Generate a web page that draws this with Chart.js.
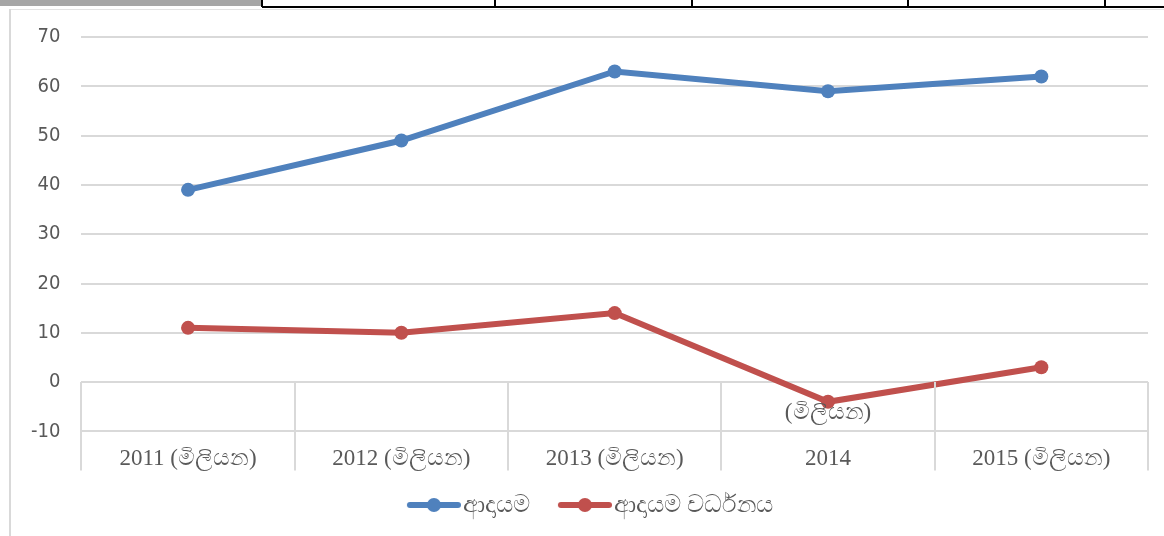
<!DOCTYPE html>
<html>
<head>
<meta charset="utf-8">
<script src="https://cdn.jsdelivr.net/npm/chart.js@4.4.0/dist/chart.umd.min.js"></script>
<style>
  html, body { margin: 0; padding: 0; background: #fff; }
  #wrap { position: relative; width: 1164px; height: 536px; overflow: hidden; }
  #chartBox { position: absolute; left: 0; top: 0; width: 1164px; height: 536px; }
  .cell { position: absolute; top: 0; height: 6px; background: #a6a6a6; }
  .hline { position: absolute; left: 262px; right: 0; top: 6px; height: 2px; background: #000; }
  .vline { position: absolute; top: 0; width: 2px; height: 7px; background: #000; }
  .frameTop { position: absolute; left: 10px; right: 0; top: 9px; height: 1px; background: #e3e3e3; }
  .frameLeft { position: absolute; left: 9px; top: 9px; bottom: 0; width: 2px; background: #d9d9d9; }
</style>
</head>
<body>
<div id="wrap">
  <div id="chartBox"><canvas id="lineChart"></canvas></div>
  <div class="cell" style="left:0;width:262px"></div>
  <div class="hline"></div>
  <div class="vline" style="left:261px"></div>
  <div class="vline" style="left:494px"></div>
  <div class="vline" style="left:691px"></div>
  <div class="vline" style="left:907px"></div>
  <div class="vline" style="left:1104px"></div>
  <div class="frameTop"></div>
  <div class="frameLeft"></div>
</div>
<script>
// chart data
var years = ["2011 (මිලියන)", "2012 (මිලියන)", "2013 (මිලියන)", "2014", "2015 (මිලියන)"];
var revenue = [39, 49, 63, 59, 62];
var revenueGrowth = [11, 10, 14, -4, 3];
var seriesNames = ["ආදායම", "ආදායම වර්ධනය"];
var yTicks = [-10, 0, 10, 20, 30, 40, 50, 60, 70];

var blue = "#4f81bd";
var red = "#c0504d";

// legend marker: short line with a dot on it, with empty room on the left
// so the items sit further apart
function legendMarker(color) {
    var c = document.createElement("canvas");
    c.width = 86; c.height = 16;
    var g = c.getContext("2d");
    g.strokeStyle = color; g.lineWidth = 6; g.lineCap = "round";
    g.beginPath(); g.moveTo(35, 8); g.lineTo(83, 8); g.stroke();
    g.fillStyle = color;
    g.beginPath(); g.arc(59, 8, 7, 0, Math.PI * 2); g.fill();
    return c;
}

// category separators below the zero line + the wrapped half of the 2014 label
var separators = {
    id: "separators",
    afterDraw: function (chart) {
        var ctx = chart.ctx, area = chart.chartArea;
        var x = chart.scales.x, y = chart.scales.y;
        var n = years.length;
        var step = (area.right - area.left) / n;
        var y0 = y.getPixelForValue(0);
        ctx.save();
        ctx.strokeStyle = "#d9d9d9";
        ctx.lineWidth = 2;
        for (var i = 0; i <= n; i++) {
            var px = Math.round(area.left + i * step);
            ctx.beginPath(); ctx.moveTo(px, y0); ctx.lineTo(px, area.bottom + 39); ctx.stroke();
        }
        ctx.fillStyle = "#595959";
        ctx.font = "23px 'Liberation Serif', serif";
        ctx.textAlign = "center";
        ctx.textBaseline = "middle";
        ctx.fillText("(මිලියන)", x.getPixelForValue(3), (y0 + y.getPixelForValue(-10)) / 2 + 6);
        ctx.restore();
    }
};

var lineData = {
    labels: years,
    datasets: [
        {
            label: seriesNames[0],
            data: revenue,
            borderColor: blue,
            backgroundColor: blue,
            pointBackgroundColor: blue,
            pointBorderWidth: 0,
            pointRadius: 7,
            borderWidth: 6,
            pointStyle: "circle",
            legendMarker: legendMarker(blue)
        }, {
            label: seriesNames[1],
            data: revenueGrowth,
            borderColor: red,
            backgroundColor: red,
            pointBackgroundColor: red,
            pointBorderWidth: 0,
            pointRadius: 7,
            borderWidth: 6,
            pointStyle: "circle",
            legendMarker: legendMarker(red)
        }
    ]
};

var lineOptions = {
    responsive: true,
    maintainAspectRatio: false,
    animation: false,
    layout: { padding: { left: 10, right: 16, top: 37, bottom: 9 } },
    plugins: {
        tooltip: { enabled: false },
        legend: {
            position: "bottom",
            labels: {
                usePointStyle: true,
                pointStyleWidth: 66,
                boxHeight: 16,
                padding: 6,
                color: "#595959",
                font: { family: "'Noto Sans', 'DejaVu Sans', sans-serif", size: 24 },
                generateLabels: function (chart) {
                    return chart.data.datasets.map(function (ds, i) {
                        return {
                            text: ds.label,
                            fillStyle: ds.borderColor,
                            strokeStyle: ds.borderColor,
                            lineWidth: 0,
                            pointStyle: ds.legendMarker,
                            fontColor: "#595959",
                            hidden: false,
                            datasetIndex: i
                        };
                    });
                }
            }
        }
    },
    scales: {
        x: {
            offset: true,
            grid: { display: false, drawTicks: false },
            border: { display: false },
            ticks: {
                padding: 14,
                maxRotation: 0,
                autoSkip: false,
                color: "#595959",
                font: { family: "'Liberation Serif', serif", size: 23 }
            }
        },
        y: {
            min: -10,
            max: 70,
            afterBuildTicks: function (axis) {
                axis.ticks = yTicks.map(function (v) { return { value: v }; });
            },
            grid: { color: "#d9d9d9", lineWidth: 2, drawTicks: false },
            border: { display: false },
            ticks: {
                padding: 21,
                color: "#595959",
                font: { family: "'DejaVu Sans Condensed', 'Liberation Sans Narrow', 'DejaVu Sans', sans-serif", size: 20 }
            }
        }
    }
};

var ctx = document.getElementById("lineChart").getContext("2d");
new Chart(ctx, { type: "line", data: lineData, options: lineOptions, plugins: [separators] });
</script>
</body>
</html>
